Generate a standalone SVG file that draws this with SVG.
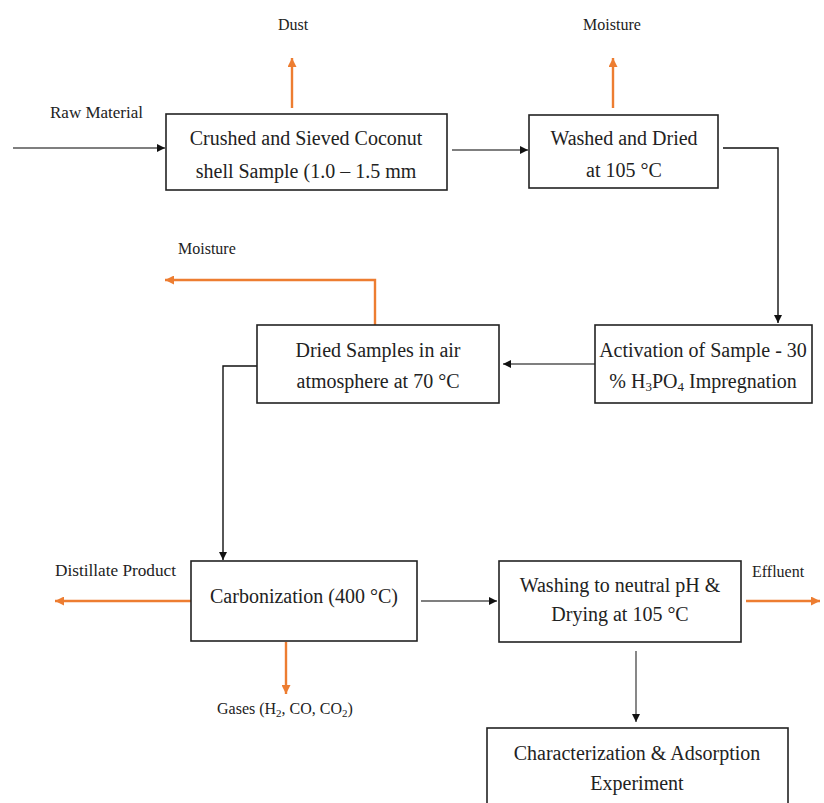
<svg xmlns="http://www.w3.org/2000/svg" width="824" height="803" viewBox="0 0 824 803">
<defs>
<marker id="ab" viewBox="0 0 10 10" refX="10" refY="5" markerWidth="8" markerHeight="8" markerUnits="userSpaceOnUse" orient="auto"><path d="M0,0 L10,5 L0,10 z" fill="#111"/></marker>
<marker id="ao" viewBox="0 0 10 10" refX="10" refY="5" markerWidth="9" markerHeight="9" markerUnits="userSpaceOnUse" orient="auto"><path d="M0,0 L10,5 L0,10 z" fill="#ED7D31"/></marker>
</defs>
<style>
text{font-family:'Liberation Serif','Times New Roman',Tinos,'DejaVu Serif',serif}
.box{fill:#fff;stroke:#222;stroke-width:1.6}
.t{font-size:20px;fill:#222;text-anchor:middle}
.l{font-size:16px;fill:#222}
.c{fill:none;stroke:#555;stroke-width:1.4}
.k{fill:none;stroke:#111;stroke-width:1.4}
.o{fill:none;stroke:#ED7D31;stroke-width:2.4}
</style>
<rect width="824" height="803" fill="#fff"/>
<g id="connectors">
<line class="c" x1="13" y1="148" x2="165" y2="148" marker-end="url(#ab)"/>
<line class="c" x1="452" y1="150" x2="528" y2="150" marker-end="url(#ab)"/>
<polyline class="k" points="723,148 778,148 778,323" marker-end="url(#ab)"/>
<line class="c" x1="595" y1="364" x2="503" y2="364" marker-end="url(#ab)"/>
<polyline class="k" points="257,366 223,366 223,560" marker-end="url(#ab)"/>
<line class="c" x1="421" y1="601" x2="497" y2="601" marker-end="url(#ab)"/>
<line class="c" x1="636" y1="651" x2="636" y2="722" marker-end="url(#ab)"/>
<line class="o" x1="292" y1="108" x2="292" y2="58" marker-end="url(#ao)"/>
<line class="o" x1="613" y1="108" x2="613" y2="58" marker-end="url(#ao)"/>
<polyline class="o" points="375,325 375,280 165,280" marker-end="url(#ao)"/>
<line class="o" x1="191" y1="601" x2="55" y2="601" marker-end="url(#ao)"/>
<line class="o" x1="286" y1="642" x2="286" y2="694" marker-end="url(#ao)"/>
<line class="o" x1="746" y1="601" x2="820" y2="601" marker-end="url(#ao)"/>
</g>
<g id="labels">
<text class="l" x="293" y="30" text-anchor="middle">Dust</text>
<text class="l" x="612" y="30" text-anchor="middle">Moisture</text>
<text class="l" x="50" y="118" textLength="93" lengthAdjust="spacingAndGlyphs">Raw Material</text>
<text class="l" x="178" y="254">Moisture</text>
<text class="l" x="55" y="576" textLength="121" lengthAdjust="spacingAndGlyphs">Distillate Product</text>
<text class="l" x="752" y="577">Effluent</text>
<text class="l" x="217" y="714">Gases (H<tspan font-size="11" dy="3">2</tspan><tspan dy="-3">, CO, CO</tspan><tspan font-size="11" dy="3">2</tspan><tspan dy="-3">)</tspan></text>
</g>
<g id="n1">
<rect class="box" x="166" y="114" width="281" height="76"/>
<text class="t" x="306" y="145">Crushed and Sieved Coconut</text>
<text class="t" x="306" y="178">shell Sample (1.0 – 1.5 mm</text>
</g>
<g id="n2">
<rect class="box" x="529" y="115" width="189" height="73"/>
<text class="t" x="624" y="145">Washed and Dried</text>
<text class="t" x="624" y="177">at 105 °C</text>
</g>
<g id="n3">
<rect class="box" x="595" y="325" width="217" height="78"/>
<text class="t" x="703" y="357">Activation of Sample - 30</text>
<text class="t" x="703" y="388">% H<tspan font-size="13" dy="3">3</tspan><tspan dy="-3">PO</tspan><tspan font-size="13" dy="3">4</tspan><tspan dy="-3"> Impregnation</tspan></text>
</g>
<g id="n4">
<rect class="box" x="257" y="325" width="242" height="78"/>
<text class="t" x="378" y="357">Dried Samples in air</text>
<text class="t" x="378" y="388">atmosphere at 70 °C</text>
</g>
<g id="n5">
<rect class="box" x="191" y="561" width="226" height="80"/>
<text class="t" x="304" y="603">Carbonization (400 °C)</text>
</g>
<g id="n6">
<rect class="box" x="499" y="561" width="242" height="81"/>
<text class="t" x="620" y="592">Washing to neutral pH &amp;</text>
<text class="t" x="620" y="621">Drying at 105 °C</text>
</g>
<g id="n7">
<rect class="box" x="487" y="728" width="301" height="90"/>
<text class="t" x="637" y="760">Characterization &amp; Adsorption</text>
<text class="t" x="637" y="790">Experiment</text>
</g>
</svg>
